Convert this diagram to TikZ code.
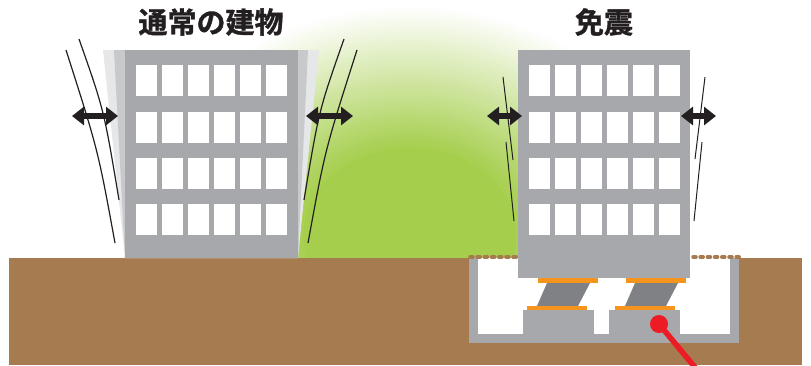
\documentclass[tikz,border=0pt]{standalone}
\usepackage{fontspec}
\newfontfamily\jpfont{Noto Sans CJK JP}[BoldFont={Noto Sans CJK JP Bold}, BoldFeatures={FakeBold=1.2}]
\usetikzlibrary{arrows.meta}

\definecolor{soil}{HTML}{A67B4F}
\definecolor{wall}{HTML}{A7A8AB}
\definecolor{ghostA}{HTML}{E6E7E8}
\definecolor{ghostB}{HTML}{C8C9CB}
\definecolor{leaf}{HTML}{A5CE4C}
\definecolor{ink}{HTML}{231F20}
\definecolor{rubber}{HTML}{808184}
\definecolor{plate}{HTML}{F7941D}
\definecolor{pinred}{HTML}{ED1C24}

\tikzset{
  title/.style={font=\jpfont\bfseries\fontsize{29}{32}\selectfont, text=ink, inner sep=0pt},
  window/.style={fill=white},
  shake/.style={draw=ink, line width=6pt,
    {Triangle[length=12pt,width=18pt]}-{Triangle[length=12pt,width=18pt]}},
  sway/.style={draw=ink, line width=1.2pt},
  rim/.style={draw=soil, line width=3.5pt, line cap=round, dash pattern=on 3pt off 4.2pt},
}

\begin{document}
\begin{tikzpicture}[x=1pt,y=-1pt]
\useasboundingbox (0,0) rectangle (811,365);
\clip (0,0) rectangle (811,365);

% soft green glow: concentric ellipses from pale rim to green core
\begin{scope}
  \clip (0,0) rectangle (811,258);
  \foreach \i in {0,...,48} {
    \pgfmathsetmacro\f{1-0.62*\i/48}
    \pgfmathtruncatemacro\p{100*\i/48}
    \fill[leaf!\p!white] (410,235) ellipse ({280*\f} and {230*\f});
  }
\end{scope}

% ground
\fill[soil] (9,258) rectangle (802,365);

% ---- ordinary building: swaying ghosts behind the body ----
\fill[ghostA] (103,50) -- (319,50) -- (298,258) -- (125,258) -- cycle;
\fill[ghostB] (114,50) -- (308,50) -- (298,258) -- (125,258) -- cycle;
\fill[wall] (125,50) rectangle (298,258);
\foreach \y in {65,112,158,204}
  \foreach \i in {0,...,5}
    \fill[window] ({136+26*\i},\y) rectangle ++(21,31);

% sway lines
\draw[sway] (66,50) .. controls (98,150) .. (115,243);
\draw[sway] (79,39) .. controls (104,110) .. (119,200);
\draw[sway] (357,50) .. controls (325,150) .. (308,243);
\draw[sway] (344,39) .. controls (319,110) .. (304,200);

\coordinate (aL1) at (72,116);  \coordinate (aL2) at (118,116);
\coordinate (aR1) at (306,116); \coordinate (aR2) at (353,116);
\draw[shake] (aL1) -- (aL2);
\draw[shake] (aR1) -- (aR2);

\node[title] (t1) at (211,22) {通常の建物};

% ---- base-isolated building ----
% pit
\fill[wall] (469,258) rectangle (739,343);
\fill[white] (478,258) rectangle (730,334);
\fill[wall] (523,310) rectangle (594,334);
\fill[wall] (609,310) rectangle (680,334);
\draw[rim] (470,257) -- (517,257);
\draw[rim] (693,257) -- (741,257);

% isolators
\foreach \dx in {0,88} {
  \fill[rubber] ({547+\dx},283) -- ({590+\dx},283) -- ({578+\dx},306) -- ({537+\dx},306) -- cycle;
  \fill[plate] ({538+\dx},278) rectangle ({598+\dx},283);
  \fill[plate] ({527+\dx},306) rectangle ({587+\dx},310);
}

% body
\fill[wall] (518,50) rectangle (690,278);
\foreach \y in {65,112,158,204}
  \foreach \i in {0,...,5}
    \fill[window] ({529+26*\i},\y) rectangle ++(21,31);

% slight sway lines
\draw[sway, line width=1pt] (503,77) -- (513,160);
\draw[sway, line width=1pt] (506,142) -- (514,221);
\draw[sway, line width=1pt] (705,77) -- (695,159);
\draw[sway, line width=1pt] (702,142) -- (694,221);

\coordinate (bL1) at (487,116); \coordinate (bL2) at (522,116);
\coordinate (bR1) at (681,116); \coordinate (bR2) at (716,116);
\draw[shake] (bL1) -- (bL2);
\draw[shake] (bR1) -- (bR2);

\node[title] (t2) at (604,22) {免震};

% pointer
\coordinate (pinTail) at (698,371);
\node[circle, fill=pinred, minimum size=18pt, inner sep=0pt] (pinHead) at (659,324) {};
\draw[draw=pinred, line width=5.5pt] (pinHead.center) -- (pinTail);
\end{tikzpicture}
\end{document}
